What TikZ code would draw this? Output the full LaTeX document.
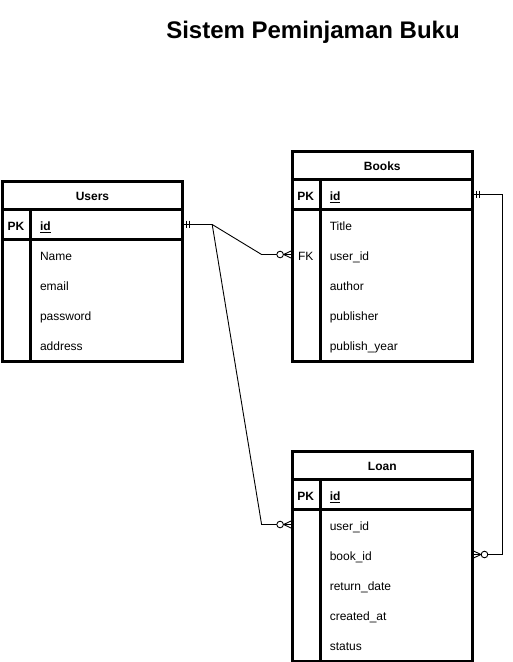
\documentclass[tikz,border=0pt]{standalone}
\usepackage{fontspec}
\setmainfont{Liberation Sans}
\usetikzlibrary{calc}
\begin{document}
\begin{tikzpicture}[x=1pt,y=-1pt,
  tbl/.style={draw, line width=3pt, minimum width=180pt, inner sep=0pt, fill=white},
  rule/.style={line width=3pt},
  txt/.style={font=\fontsize{12}{14}\selectfont},
  field/.style={txt, minimum height=30pt, minimum width=180pt, inner xsep=37.5pt,
    inner ysep=0pt, text width=105pt, align=left, text height=12pt, text depth=0pt},
  keyfield/.style={field, font=\fontsize{12}{14}\selectfont\bfseries},
  tag/.style={txt, inner sep=0pt, text height=12pt, text depth=0pt},
  keytag/.style={tag, font=\fontsize{12}{14}\selectfont\bfseries},
  heading/.style={minimum height=30pt, minimum width=180pt, inner sep=0pt,
    text height=12pt, text depth=0pt, font=\fontsize{12}{14}\selectfont\bfseries},
  conn/.style={line width=0.9pt},
  endmark/.style={line width=0.9pt},
]
\useasboundingbox (0,0) rectangle (513,662);

% title
\node[font=\fontsize{24}{28}\selectfont\bfseries, anchor=base, inner sep=0pt]
  (title) at (313,38) {Sistem Peminjaman Buku};

% ---------- Users ----------
\node[tbl, minimum height=180pt] (users) at (92.5,271) {};
\draw[rule] ($(users.north west)+(0,30)$) -- ($(users.north east)+(0,30)$);
\draw[rule] ($(users.north west)+(0,60)$) -- ($(users.north east)+(0,60)$);
\draw[rule] ($(users.north west)+(29.8,30)$) -- ($(users.south west)+(29.8,0)$);
\node[heading] (users-head) at ($(users.north)+(0,15)$) {Users};
\node[keyfield] (users-id) at ($(users.north)+(0,45)$) {\underline{id}};
\node[keytag] (users-pk) at ($(users.north west)+(14.9,45)$) {PK};
\node[field] (users-name) at ($(users.north)+(0,75)$) {Name};
\node[field] (users-email) at ($(users.north)+(0,105)$) {email};
\node[field] (users-password) at ($(users.north)+(0,135)$) {password};
\node[field] (users-address) at ($(users.north)+(0,165)$) {address};

% ---------- Books ----------
\node[tbl, minimum height=210pt] (books) at (382.3,256) {};
\draw[rule] ($(books.north west)+(0,30)$) -- ($(books.north east)+(0,30)$);
\draw[rule] ($(books.north west)+(0,60)$) -- ($(books.north east)+(0,60)$);
\draw[rule] ($(books.north west)+(29.8,30)$) -- ($(books.south west)+(29.8,0)$);
\node[heading] (books-head) at ($(books.north)+(0,15)$) {Books};
\node[keyfield] (books-id) at ($(books.north)+(0,45)$) {\underline{id}};
\node[keytag] (books-pk) at ($(books.north west)+(14.9,45)$) {PK};
\node[field] (books-title) at ($(books.north)+(0,75)$) {Title};
\node[field] (books-userid) at ($(books.north)+(0,105)$) {user\_id};
\node[tag] (books-fk) at ($(books.north west)+(14.9,105)$) {FK};
\node[field] (books-author) at ($(books.north)+(0,135)$) {author};
\node[field] (books-publisher) at ($(books.north)+(0,165)$) {publisher};
\node[field] (books-year) at ($(books.north)+(0,195)$) {publish\_year};

% ---------- Loan ----------
\node[tbl, minimum height=210pt] (loan) at (382.3,556) {};
\draw[rule] ($(loan.north west)+(0,30)$) -- ($(loan.north east)+(0,30)$);
\draw[rule] ($(loan.north west)+(0,60)$) -- ($(loan.north east)+(0,60)$);
\draw[rule] ($(loan.north west)+(29.8,30)$) -- ($(loan.south west)+(29.8,0)$);
\node[heading] (loan-head) at ($(loan.north)+(0,15)$) {Loan};
\node[keyfield] (loan-id) at ($(loan.north)+(0,45)$) {\underline{id}};
\node[keytag] (loan-pk) at ($(loan.north west)+(14.9,45)$) {PK};
\node[field] (loan-userid) at ($(loan.north)+(0,75)$) {user\_id};
\node[field] (loan-bookid) at ($(loan.north)+(0,105)$) {book\_id};
\node[field] (loan-return) at ($(loan.north)+(0,135)$) {return\_date};
\node[field] (loan-created) at ($(loan.north)+(0,165)$) {created\_at};
\node[field] (loan-status) at ($(loan.north)+(0,195)$) {status};

% ---------- relationships ----------
\coordinate (split) at ($(users-id.east)+(29.5,0)$);
\coordinate (toBooks) at ($(books-userid.west)+(-30.5,0)$);
\coordinate (toLoan) at ($(loan-userid.west)+(-30.5,0)$);
\coordinate (bookOut) at ($(books-id.east)+(30,0)$);
\coordinate (bookIn) at (bookOut |- loan-bookid.east);

\draw[conn] (users-id.east) -- (split) -- (toBooks) -- (books-userid.west);
\draw[conn] (users-id.east) -- (split) -- (toLoan) -- (loan-userid.west);
\draw[conn] (books-id.east) -- (bookOut) -- (bookIn) -- (loan-bookid.east);

% mandatory-one ends
\begin{scope}[shift={(users-id.east)}]
  \draw[endmark] (3.5,-3.8) -- (3.5,3.8) (7,-3.8) -- (7,3.8);
\end{scope}
\begin{scope}[shift={(books-id.east)}]
  \draw[endmark] (3.5,-3.8) -- (3.5,3.8) (7,-3.8) -- (7,3.8);
\end{scope}

% zero-to-many ends
\begin{scope}[shift={(books-userid.west)}]
  \draw[endmark] (0,-4) -- (-8.5,0) -- (0,4) (-8.5,0) -- (0,0);
  \draw[endmark, fill=white] (-12,0) circle[radius=3.3pt];
\end{scope}
\begin{scope}[shift={(loan-userid.west)}]
  \draw[endmark] (0,-4) -- (-8.5,0) -- (0,4) (-8.5,0) -- (0,0);
  \draw[endmark, fill=white] (-12,0) circle[radius=3.3pt];
\end{scope}
\begin{scope}[shift={(loan-bookid.east)}]
  \draw[endmark] (0,-4) -- (8.5,0) -- (0,4) (8.5,0) -- (0,0);
  \draw[endmark, fill=white] (12,0) circle[radius=3.3pt];
\end{scope}
\end{tikzpicture}
\end{document}
